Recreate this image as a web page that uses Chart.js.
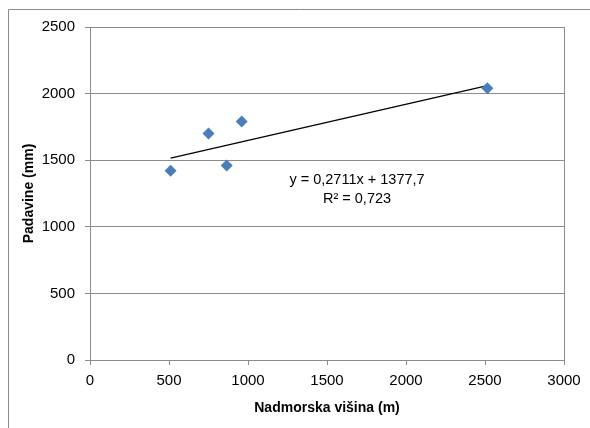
<!DOCTYPE html>
<html>
<head>
<meta charset="utf-8">
<script src="https://cdn.jsdelivr.net/npm/chart.js@4/dist/chart.umd.min.js"></script>
<style>
  html, body { margin: 0; padding: 0; background: #fff; }
  #wrap { width: 590px; height: 428px; position: relative; }
</style>
</head>
<body>
<div id="wrap"><canvas id="rainChart"></canvas></div>
<script>
// Data
const altitude = [510, 750, 865, 960, 2515];
const precipitation = [1420, 1700, 1460, 1790, 2040];
const xTicks = [0, 500, 1000, 1500, 2000, 2500, 3000];
const yTicks = [0, 500, 1000, 1500, 2000, 2500];
const trendSlope = 0.2711;
const trendIntercept = 1377.7;
const trendLabel = ['y = 0,2711x + 1377,7', 'R² = 0,723'];

const FONT = '"Liberation Sans", Arial, sans-serif';
const GRID = '#8c8c8c';

// trendline spans the data range
const xMin = Math.min(...altitude), xMax = Math.max(...altitude);
const trendPoints = [xMin, xMax].map(x => ({ x: x, y: trendSlope * x + trendIntercept }));

const frame = {
  id: 'frame',
  beforeDraw(chart) {
    const c = chart.ctx;
    c.save();
    c.strokeStyle = GRID;
    c.lineWidth = 1;
    c.beginPath();
    c.moveTo(8.5, 430);
    c.lineTo(8.5, 9.5);
    c.lineTo(592, 9.5);
    c.stroke();
    c.restore();
  },
  afterDatasetsDraw(chart) {
    const c = chart.ctx, a = chart.chartArea;
    c.save();
    c.strokeStyle = GRID;
    c.lineWidth = 1;
    c.beginPath();
    c.moveTo(Math.round(a.right) + 0.5, a.top);
    c.lineTo(Math.round(a.right) + 0.5, a.bottom);
    c.stroke();
    // equation label
    const xs = chart.scales.x, ys = chart.scales.y;
    c.fillStyle = '#000';
    c.font = '14.5px ' + FONT;
    c.textAlign = 'center';
    c.textBaseline = 'middle';
    c.fillText(trendLabel[0], xs.getPixelForValue(1690), ys.getPixelForValue(1350));
    c.fillText(trendLabel[1], xs.getPixelForValue(1690), ys.getPixelForValue(1210));
    c.restore();
  }
};

const ctx = document.getElementById('rainChart').getContext('2d');
new Chart(ctx, {
  type: 'scatter',
  data: {
    datasets: [{
      label: 'Padavine',
      data: altitude.map((x, i) => ({ x: x, y: precipitation[i] })),
      pointStyle: 'rectRot',
      pointRadius: 6,
      pointHoverRadius: 6,
      backgroundColor: '#4a7ebb',
      borderColor: '#4a7ebb',
      borderWidth: 0,
      order: 1
    }, {
      label: 'Trend',
      type: 'line',
      data: trendPoints,
      borderColor: '#000',
      borderWidth: 1.3,
      pointRadius: 0,
      fill: false,
      order: 2
    }]
  },
  options: {
    responsive: true,
    maintainAspectRatio: false,
    animation: false,
    layout: { padding: { left: 0, top: 27, right: 26, bottom: 0 } },
    plugins: {
      legend: { display: false },
      tooltip: { enabled: false }
    },
    scales: {
      x: {
        type: 'linear',
        min: 0,
        max: 3000,
        afterBuildTicks: s => { s.ticks = xTicks.map(v => ({ value: v })); },
        afterFit: s => { s.height = 68; },
        grid: { drawOnChartArea: false, drawTicks: true, tickLength: 5, color: GRID },
        border: { color: GRID },
        ticks: { color: '#000', font: { family: FONT, size: 15 }, padding: 7, maxRotation: 0, callback: v => String(v) },
        title: {
          display: true,
          text: 'Nadmorska višina (m)',
          color: '#000',
          font: { family: FONT, size: 14, weight: 'bold' },
          padding: { top: 0, bottom: 11 }
        }
      },
      y: {
        type: 'linear',
        min: 0,
        max: 2500,
        afterBuildTicks: s => { s.ticks = yTicks.map(v => ({ value: v })); },
        afterFit: s => { s.width = 90; },
        grid: { drawTicks: true, tickLength: 5, color: GRID },
        border: { color: GRID },
        ticks: { color: '#000', font: { family: FONT, size: 15 }, padding: 10, callback: v => String(v) },
        title: {
          display: true,
          text: 'Padavine (mm)',
          color: '#000',
          font: { family: FONT, size: 14, weight: 'bold' },
          padding: { top: 21, bottom: 0 }
        }
      }
    }
  },
  plugins: [frame]
});
</script>
</body>
</html>
